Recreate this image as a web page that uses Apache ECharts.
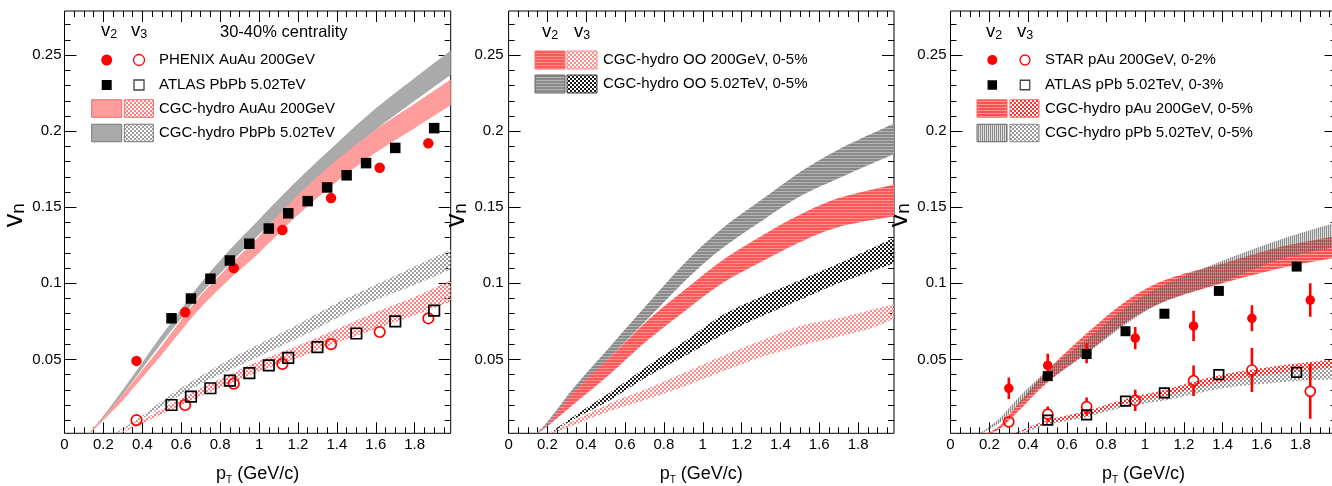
<!DOCTYPE html>
<html><head><meta charset="utf-8">
<script src="https://cdn.jsdelivr.net/npm/echarts@6/dist/echarts.min.js"></script>
<style>html,body{margin:0;padding:0;background:#fff}#c{width:1332px;height:486px}</style>
</head><body><div id="c"></div>
<script>
// ================= DATA =================
// tick labels
const xTicks = [0,0.2,0.4,0.6,0.8,1.0,1.2,1.4,1.6,1.8];
const xMinorTicks = [0.05,0.1,0.15,0.25,0.3,0.35,0.45,0.5,0.55,0.65,0.7,0.75,0.85,0.9,0.95,1.05,1.1,1.15,1.25,1.3,1.35,1.45,1.5,1.55,1.65,1.7,1.75,1.85,1.9,1.95];
const yTicks = [0.05,0.1,0.15,0.2,0.25];
const yMinorTicks = [0.01,0.02,0.03,0.04,0.06,0.07,0.08,0.09,0.11,0.12,0.13,0.14,0.16,0.17,0.18,0.19,0.21,0.22,0.23,0.24,0.26,0.27];

// ---- Panel 1: 30-40% centrality ----
const phenixX  = [0.37,0.62,0.87,1.12,1.37,1.62,1.87];
const phenixV2 = [0.049,0.081,0.110,0.135,0.156,0.176,0.192];
const phenixV3 = [0.010,0.020,0.034,0.047,0.060,0.068,0.077];
const atlasPbPbX2 = [0.55,0.65,0.75,0.85,0.95,1.05,1.15,1.25,1.35,1.45,1.55,1.7,1.9];
const atlasPbPbV2 = [0.077,0.090,0.103,0.115,0.126,0.136,0.146,0.154,0.163,0.171,0.179,0.189,0.202];
const atlasPbPbX3 = [0.55,0.65,0.75,0.85,0.95,1.05,1.15,1.3,1.5,1.7,1.9];
const atlasPbPbV3 = [0.020,0.0255,0.031,0.036,0.041,0.046,0.051,0.058,0.067,0.075,0.082];

const hydroAA_x   = [0.12,0.2,0.3,0.4,0.5,0.6,0.7,0.85,1.0,1.2,1.4,1.6,1.8,1.985];
const hydroPbPbV2lo = [0,0.011,0.027,0.044,0.061,0.077,0.093,0.113,0.132,0.156,0.179,0.201,0.220,0.237];
const hydroPbPbV2hi = [0.0005,0.013,0.030,0.048,0.066,0.083,0.100,0.122,0.142,0.168,0.192,0.215,0.235,0.253];
const hydroAuAuV2lo = [0,0.010,0.023,0.038,0.053,0.069,0.084,0.103,0.120,0.145,0.167,0.186,0.202,0.217];
const hydroAuAuV2hi = [0.0005,0.012,0.027,0.043,0.059,0.076,0.092,0.112,0.131,0.158,0.181,0.201,0.218,0.234];
const hydroPbPbV3x  = [0.25,0.4,0.55,0.7,0.85,1.0,1.2,1.4,1.6,1.8,1.985];
const hydroPbPbV3lo = [0,0.011,0.023,0.034,0.043,0.052,0.064,0.077,0.089,0.099,0.109];
const hydroPbPbV3hi = [0.0005,0.013,0.027,0.039,0.050,0.060,0.073,0.087,0.099,0.111,0.122];
const hydroAuAuV3x  = [0.27,0.4,0.55,0.7,0.85,1.0,1.2,1.4,1.6,1.8,1.985];
const hydroAuAuV3lo = [0,0.008,0.017,0.026,0.034,0.042,0.051,0.061,0.070,0.079,0.088];
const hydroAuAuV3hi = [0.0005,0.010,0.021,0.031,0.040,0.049,0.059,0.070,0.081,0.091,0.102];

// ---- Panel 2: OO 0-5% ----
const hydroOOv2x = [0.135,0.2,0.34,0.52,0.72,0.92,1.1,1.315,1.5,1.7,1.985];
const hydroOO502V2lo = [0,0.007,0.027,0.051,0.077,0.103,0.123,0.142,0.157,0.169,0.185];
const hydroOO502V2hi = [0.0005,0.009,0.032,0.058,0.087,0.115,0.136,0.156,0.173,0.188,0.205];
const hydroOO200V2lo = [0,0.006,0.021,0.040,0.063,0.083,0.100,0.115,0.127,0.137,0.144];
const hydroOO200V2hi = [0.0005,0.007,0.029,0.051,0.076,0.097,0.115,0.132,0.145,0.156,0.165];
const hydroOO502V3x  = [0.2,0.34,0.52,0.72,0.92,1.1,1.315,1.5,1.7,1.985];
const hydroOO502V3lo = [0,0.011,0.023,0.039,0.053,0.066,0.079,0.089,0.100,0.113];
const hydroOO502V3hi = [0.0005,0.013,0.028,0.046,0.063,0.079,0.092,0.102,0.113,0.130];
const hydroOO200V3x  = [0.2,0.34,0.52,0.72,0.92,1.1,1.315,1.5,1.7,1.88,1.985];
const hydroOO200V3lo = [0,0.007,0.016,0.024,0.033,0.042,0.052,0.059,0.065,0.071,0.077];
const hydroOO200V3hi = [0.0005,0.010,0.021,0.031,0.042,0.052,0.063,0.072,0.077,0.083,0.086];

// ---- Panel 3: small systems ----
const starX = [0.3,0.5,0.7,0.95,1.25,1.55,1.85];
const starV2 = [0.031,0.046,0.054,0.064,0.072,0.077,0.089];
const starV2err = [0.007,0.0077,0.0066,0.0073,0.010,0.0085,0.011];
const starV3 = [0.009,0.014,0.019,0.023,0.036,0.043,0.029];
const starV3err = [0.004,0.005,0.006,0.007,0.010,0.0145,0.018];
const atlasPPbX = [0.5,0.7,0.9,1.1,1.38,1.78];
const atlasPPbV2 = [0.039,0.0535,0.0685,0.080,0.095,0.111];
const atlasPPbV3 = [0.010,0.0135,0.0225,0.028,0.040,0.0415];

const hydroPAuV2x  = [0.17,0.25,0.35,0.5,0.7,0.9,1.1,1.4,1.7,1.985];
const hydroPAuV2lo = [0,0.004,0.016,0.035,0.054,0.074,0.088,0.100,0.110,0.117];
const hydroPAuV2hi = [0.0005,0.006,0.021,0.043,0.067,0.088,0.102,0.113,0.124,0.131];
const hydroPPbV2x  = [0.14,0.25,0.35,0.5,0.7,0.9,1.1,1.4,1.7,1.985];
const hydroPPbV2lo = [0,0.008,0.020,0.036,0.054,0.073,0.088,0.101,0.116,0.124];
const hydroPPbV2hi = [0.0005,0.011,0.025,0.043,0.063,0.084,0.099,0.115,0.129,0.140];
const hydroPAuV3x  = [0.31,0.5,0.7,0.9,1.1,1.4,1.7,1.985];
const hydroPAuV3lo = [0,0.008,0.013,0.021,0.026,0.035,0.041,0.045];
const hydroPAuV3hi = [0.0005,0.010,0.016,0.024,0.030,0.040,0.046,0.050];
const hydroPPbV3x  = [0.35,0.5,0.7,0.9,1.1,1.4,1.7,1.985];
const hydroPPbV3lo = [0,0.007,0.012,0.019,0.023,0.031,0.035,0.037];
const hydroPPbV3hi = [0.0005,0.009,0.015,0.023,0.028,0.036,0.042,0.045];

// ================= STYLE / LAYOUT =================
const FONT = '"Liberation Sans", Arial, Helvetica, sans-serif';
const RED = '#ff0000';
const X_MIN = 0, X_MAX = 1.985, Y_MIN = 0.0014, Y_MAX = 0.279;
const GRID_TOP = 11, GRID_H = 422.3;
const panels = [
  {left: 64.5, width: 386.2, labelMargin: 3},
  {left: 508.6, width: 385.4, labelMargin: 5},
  {left: 950.5, width: 386, labelMargin: 4}
];

function pattern(w, h, fn) {
  const c = document.createElement('canvas'); c.width = w; c.height = h;
  const g = c.getContext('2d'); fn(g);
  return {image: c, repeat: 'repeat'};
}
function checker(col) { return pattern(4, 4, g => { g.fillStyle = col; g.fillRect(0,0,2,2); g.fillRect(2,2,2,2); }); }
function hlines(c1, c2) { return pattern(1, 3, g => { g.fillStyle = c1; g.fillRect(0,0,1,2); g.fillStyle = c2; g.fillRect(0,2,1,1); }); }
function vlines(c1, c2) { return pattern(2, 1, g => { g.fillStyle = c1; g.fillRect(0,0,1,1); g.fillStyle = c2; g.fillRect(1,0,1,1); }); }

const F = {
  p1RedSolid: '#ff9c9c', p1GreySolid: '#aaaaaa',
  p1RedDots: checker('#ff8080'), p1GreyDots: checker('#a0a0a0'),
  p2GreyH: hlines('#8a8a8a', '#b4b4b4'), p2RedH: hlines('#ff5858', '#ff9090'),
  p2BlackDots: checker('#1a1a1a'), p2RedDots: checker('#ff8a8a'),
  p3RedH: hlines('#ff5050', '#ff9a9a'), p3GreyV: vlines('rgba(90,90,90,0.7)', 'rgba(150,150,150,0.3)'),
  p3RedDots: checker('#ff3030'), p3GreyDots: checker('#9a9a9a')
};

const fmt = v => String(parseFloat(v.toFixed(3)));

// ================= AXES =================
const grid = [], xAxis = [], yAxis = [];
panels.forEach((p, g) => {
  grid.push({left: p.left, top: GRID_TOP, width: p.width, height: GRID_H, show: true,
    borderColor: '#000', borderWidth: 1, backgroundColor: 'transparent', containLabel: false, outerBoundsMode: 'none'});
  const bx = {type: 'value', gridIndex: g, min: X_MIN, max: X_MAX, splitLine: {show: false},
    axisLine: {show: false, onZero: false}, axisLabel: {show: false}};
  const tickStyle = {color: '#000', width: 1};
  xAxis.push(Object.assign({}, bx, {position: 'bottom',
    axisTick: {show: true, inside: true, length: 11, customValues: xTicks, lineStyle: tickStyle},
    axisLabel: {show: true, customValues: xTicks, formatter: fmt, margin: 4.5, fontSize: 15, color: '#000', fontFamily: FONT},
    name: '{p|p}{t|T}{g| (GeV/c)}', nameLocation: 'middle', nameGap: 30,
    nameTextStyle: {color: '#000', fontFamily: FONT, rich: {
      p: {fontSize: 18, fontFamily: FONT, color: '#000', lineHeight: 22},
      t: {fontSize: 10, fontFamily: FONT, color: '#000', lineHeight: 2, verticalAlign: 'bottom'},
      g: {fontSize: 18, fontFamily: FONT, color: '#000', lineHeight: 22}}}
  }));
  xAxis.push(Object.assign({}, bx, {position: 'bottom',
    axisTick: {show: true, inside: true, length: 6, customValues: xMinorTicks, lineStyle: tickStyle}}));
  xAxis.push(Object.assign({}, bx, {position: 'top',
    axisTick: {show: true, inside: true, length: 11, customValues: xTicks, lineStyle: tickStyle}}));
  xAxis.push(Object.assign({}, bx, {position: 'top',
    axisTick: {show: true, inside: true, length: 6, customValues: xMinorTicks, lineStyle: tickStyle}}));

  const by = {type: 'value', gridIndex: g, min: Y_MIN, max: Y_MAX, splitLine: {show: false},
    axisLine: {show: false, onZero: false}, axisLabel: {show: false}};
  yAxis.push(Object.assign({}, by, {position: 'left',
    axisTick: {show: true, inside: true, length: 12, customValues: yTicks, lineStyle: tickStyle},
    axisLabel: {show: true, customValues: yTicks, formatter: fmt, margin: p.labelMargin, fontSize: 15, color: '#000', fontFamily: FONT},
    name: '{v|v}{n|n}', nameLocation: 'middle', nameGap: 24, nameRotate: 90,
    nameTextStyle: {color: '#000', fontFamily: FONT, padding: [0, 0, 0, 14], rich: {
      v: {fontSize: 27, fontFamily: FONT, color: '#000', lineHeight: 28},
      n: {fontSize: 19, fontFamily: FONT, color: '#000', lineHeight: 6, verticalAlign: 'bottom'}}}
  }));
  yAxis.push(Object.assign({}, by, {position: 'left',
    axisTick: {show: true, inside: true, length: 6, customValues: yMinorTicks, lineStyle: tickStyle}}));
  yAxis.push(Object.assign({}, by, {position: 'right',
    axisTick: {show: true, inside: true, length: 12, customValues: yTicks, lineStyle: tickStyle}}));
  yAxis.push(Object.assign({}, by, {position: 'right',
    axisTick: {show: true, inside: true, length: 6, customValues: yMinorTicks, lineStyle: tickStyle}}));
});

// ================= SERIES =================
const series = [];
// smooth (Catmull-Rom) path through pixel points
function smoothSeg(pts, start) {
  let d = start ? 'M' + pts[0][0] + ',' + pts[0][1] : 'L' + pts[0][0] + ',' + pts[0][1];
  const n = pts.length;
  for (let i = 0; i < n - 1; i++) {
    const p0 = pts[Math.max(i - 1, 0)], p1 = pts[i], p2 = pts[i + 1], p3 = pts[Math.min(i + 2, n - 1)];
    const c1 = [p1[0] + (p2[0] - p0[0]) / 6, p1[1] + (p2[1] - p0[1]) / 6];
    const c2 = [p2[0] - (p3[0] - p1[0]) / 6, p2[1] - (p3[1] - p1[1]) / 6];
    d += 'C' + c1[0] + ',' + c1[1] + ' ' + c2[0] + ',' + c2[1] + ' ' + p2[0] + ',' + p2[1];
  }
  return d;
}
function band(g, xs, lo, hi, fill) {
  series.push({
    type: 'custom', xAxisIndex: g * 4, yAxisIndex: g * 4, clip: true, silent: true,
    data: xs.map((x, i) => [x, lo[i], hi[i]]),
    encode: {x: 0, y: [1, 2]},
    renderItem: function (params, api) {
      if (params.dataIndex !== 0) return null;
      const up = [], dn = [];
      for (let i = 0; i < xs.length; i++) up.push(api.coord([xs[i], hi[i]]));
      for (let i = xs.length - 1; i >= 0; i--) dn.push(api.coord([xs[i], lo[i]]));
      const d = smoothSeg(up, true) + smoothSeg(dn, false) + 'Z';
      return {type: 'path', shape: {pathData: d}, style: {fill: fill, stroke: null}};
    }
  });
}
function points(g, xs, ys, symbol, size, filled, color) {
  series.push({
    type: 'scatter', xAxisIndex: g * 4, yAxisIndex: g * 4, silent: true,
    symbol: symbol, symbolSize: size,
    data: xs.map((x, i) => [x, ys[i]]),
    itemStyle: filled ? {color: color, opacity: 1} : {color: 'rgba(0,0,0,0)', borderColor: color, borderWidth: 1.7, opacity: 1}
  });
}
function errbars(g, xs, ys, es, color, gapR) {
  series.push({
    type: 'custom', xAxisIndex: g * 4, yAxisIndex: g * 4, clip: true, silent: true,
    data: xs.map((x, i) => [x, ys[i], es[i]]),
    encode: {x: 0, y: 1},
    renderItem: function (params, api) {
      const x = api.value(0), y = api.value(1), e = api.value(2);
      const c = api.coord([x, y]), t = api.coord([x, y + e]), b = api.coord([x, y - e]);
      const st = {stroke: color, lineWidth: 2.6};
      const kids = [];
      if (c[1] - gapR > t[1]) kids.push({type: 'line', shape: {x1: c[0], y1: t[1], x2: c[0], y2: c[1] - gapR}, style: st});
      if (b[1] > c[1] + gapR) kids.push({type: 'line', shape: {x1: c[0], y1: c[1] + gapR, x2: c[0], y2: b[1]}, style: st});
      return {type: 'group', children: kids};
    }
  });
}

// Panel 1
band(0, hydroAA_x, hydroPbPbV2lo, hydroPbPbV2hi, F.p1GreySolid);
band(0, hydroAA_x, hydroAuAuV2lo, hydroAuAuV2hi, F.p1RedSolid);
band(0, hydroPbPbV3x, hydroPbPbV3lo, hydroPbPbV3hi, F.p1GreyDots);
band(0, hydroAuAuV3x, hydroAuAuV3lo, hydroAuAuV3hi, F.p1RedDots);
points(0, phenixX, phenixV2, 'circle', 10.5, true, RED);
points(0, phenixX, phenixV3, 'circle', 10.5, false, RED);
points(0, atlasPbPbX2, atlasPbPbV2, 'rect', 10.5, true, '#000');
points(0, atlasPbPbX3, atlasPbPbV3, 'rect', 10.5, false, '#000');

// Panel 2
band(1, hydroOOv2x, hydroOO502V2lo, hydroOO502V2hi, F.p2GreyH);
band(1, hydroOOv2x, hydroOO200V2lo, hydroOO200V2hi, F.p2RedH);
band(1, hydroOO502V3x, hydroOO502V3lo, hydroOO502V3hi, F.p2BlackDots);
band(1, hydroOO200V3x, hydroOO200V3lo, hydroOO200V3hi, F.p2RedDots);

// Panel 3
band(2, hydroPAuV2x, hydroPAuV2lo, hydroPAuV2hi, F.p3RedH);
band(2, hydroPPbV2x, hydroPPbV2lo, hydroPPbV2hi, F.p3GreyV);
band(2, hydroPPbV3x, hydroPPbV3lo, hydroPPbV3hi, F.p3GreyDots);
band(2, hydroPAuV3x, hydroPAuV3lo, hydroPAuV3hi, F.p3RedDots);
errbars(2, starX, starV2, starV2err, RED, 0);
errbars(2, starX, starV3, starV3err, RED, 5);
points(2, starX, starV2, 'circle', 9.5, true, RED);
points(2, starX, starV3, 'circle', 10, false, RED);
points(2, atlasPPbX, atlasPPbV2, 'rect', 10, true, '#000');
points(2, atlasPPbX, atlasPPbV3, 'rect', 9.5, false, '#000');

// ================= LEGENDS (graphic) =================
const graphics = [];
function txt(x, y, text, size) {
  graphics.push({type: 'text', x: x, y: y, silent: true,
    style: {text: text, fontSize: size, fontFamily: FONT, fill: '#000', align: 'left', verticalAlign: 'middle'}});
}
function vHeader(x, y, sub) {
  graphics.push({type: 'text', x: x, y: y, silent: true,
    style: {text: '{v|v}{s|' + sub + '}', align: 'left', verticalAlign: 'middle', fill: '#000', rich: {
      v: {fontSize: 18.5, fontFamily: FONT, fill: '#000', lineHeight: 20},
      s: {fontSize: 12.5, fontFamily: FONT, fill: '#000', lineHeight: 8, verticalAlign: 'bottom'}}}});
}
function dot(x, y, r, filled, color) {
  graphics.push({type: 'circle', silent: true, shape: {cx: x, cy: y, r: r},
    style: filled ? {fill: color} : {fill: 'none', stroke: color, lineWidth: 1.3}});
}
function sq(x, y, s, filled, color) {
  graphics.push({type: 'rect', silent: true, shape: {x: x - s / 2, y: y - s / 2, width: s, height: s},
    style: filled ? {fill: color} : {fill: 'none', stroke: color, lineWidth: 1.3}});
}
function swatch(x, y, w, h, fill, stroke) {
  graphics.push({type: 'rect', silent: true, shape: {x: x, y: y - h / 2, width: w, height: h},
    style: {fill: fill, stroke: stroke, lineWidth: 1}});
}

// Panel 1 legend
vHeader(101, 31, '2'); vHeader(131, 31, '3');
txt(220, 32, '30-40% centrality', 16.5);
dot(106.7, 60, 5.5, true, RED); dot(139, 60, 5.5, false, RED); txt(159, 60, 'PHENIX AuAu 200GeV', 15);
sq(106.7, 85, 10, true, '#000'); sq(139, 85, 10, false, '#444'); txt(159, 85, 'ATLAS PbPb 5.02TeV', 15);
swatch(91.7, 108.5, 30, 17.5, F.p1RedSolid, '#ee6a6a'); swatch(124.3, 108.5, 29, 17.5, F.p1RedDots, '#ee6a6a');
txt(159, 108.5, 'CGC-hydro AuAu 200GeV', 15);
swatch(91.7, 133, 30, 17.5, F.p1GreySolid, '#777'); swatch(124.3, 133, 29, 17.5, F.p1GreyDots, '#777');
txt(159, 133, 'CGC-hydro PbPb 5.02TeV', 15);

// Panel 2 legend
vHeader(542, 32, '2'); vHeader(574, 32, '3');
swatch(535, 60, 30, 18, F.p2RedH, '#ff6a6a'); swatch(567, 60, 30, 18, F.p2RedDots, '#ff8a8a');
txt(603, 60, 'CGC-hydro OO 200GeV, 0-5%', 15);
swatch(535, 84, 30, 18, F.p2GreyH, '#666'); swatch(567, 84, 30, 18, F.p2BlackDots, '#444');
txt(603, 84, 'CGC-hydro OO 5.02TeV, 0-5%', 15);

// Panel 3 legend
vHeader(986, 32, '2'); vHeader(1017, 32, '3');
dot(992.3, 60, 5, true, RED); dot(1025, 60, 5, false, RED); txt(1045, 60, 'STAR pAu 200GeV, 0-2%', 15);
sq(992.3, 85, 9.5, true, '#000'); sq(1025, 85, 9.5, false, '#444'); txt(1045, 85, 'ATLAS pPb 5.02TeV, 0-3%', 15);
swatch(977, 108.5, 30, 17.5, F.p3RedH, '#ff6a6a'); swatch(1010, 108.5, 29, 17.5, F.p3RedDots, '#ff6a6a');
txt(1045, 108.5, 'CGC-hydro pAu 200GeV, 0-5%', 15);
swatch(977, 133, 30, 17.5, F.p3GreyV, '#666'); swatch(1010, 133, 29, 17.5, F.p3GreyDots, '#888');
txt(1045, 133, 'CGC-hydro pPb 5.02TeV, 0-5%', 15);

// ================= CHART =================
const chart = echarts.init(document.getElementById('c'), null, {renderer: 'canvas'});
chart.setOption({
  animation: false,
  backgroundColor: '#fff',
  textStyle: {fontFamily: FONT},
  grid: grid, xAxis: xAxis, yAxis: yAxis,
  series: series,
  graphic: {elements: graphics}
});
</script>
</body></html>
